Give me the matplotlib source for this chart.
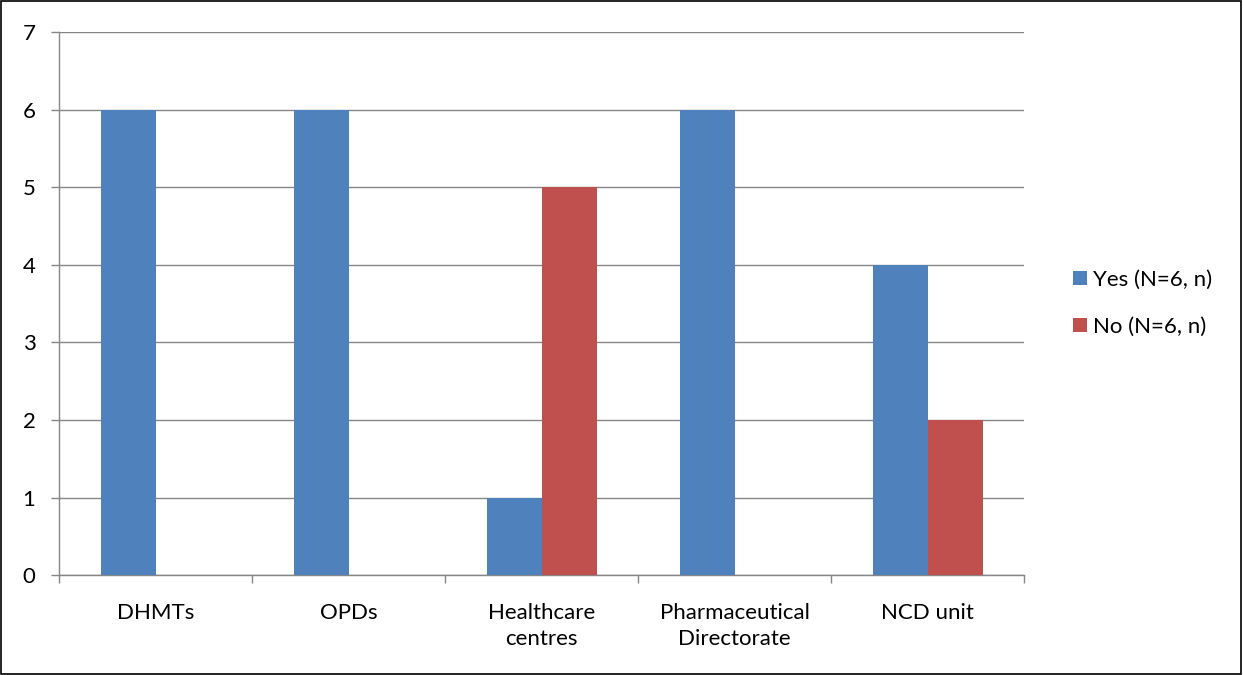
import numpy as np
import matplotlib.pyplot as plt
from matplotlib.patches import Rectangle

categories = ['DHMTs', 'OPDs', 'Healthcare\ncentres', 'Pharmaceutical\nDirectorate', 'NCD unit']
yes_vals = [6, 6, 1, 6, 4]
no_vals = [0, 0, 5, 0, 2]
series_names = ['Yes (N=6, n)', 'No (N=6, n)']

plt.rcParams['font.family'] = ['Lato', 'DejaVu Sans']

fig = plt.figure(figsize=(12.43, 6.75), dpi=100)
ax = fig.add_axes([0.0475, 0.148, 0.7765, 0.8046])

x = np.arange(len(categories))
w = 0.285
ax.bar(x - w / 2, yes_vals, w, color='#4F81BD', label=series_names[0], zorder=3)
ax.bar(x + w / 2, no_vals, w, color='#C0504D', label=series_names[1], zorder=3)

ax.set_xlim(-0.5, len(categories) - 0.5)
ax.set_ylim(0, 7)
ax.set_yticks(range(0, 8))
ax.yaxis.grid(True, color='#868686', linewidth=1, zorder=0)

ax.set_xticks(x)
ax.set_xticklabels(categories, fontsize=16, linespacing=1.4)
ax.set_xticks(np.arange(-0.5, len(categories)), minor=True)
ax.tick_params(axis='x', which='major', length=0, pad=20)
ax.tick_params(axis='x', which='minor', length=6, color='#868686', width=1)
ax.tick_params(axis='y', length=6, color='#868686', width=1, labelsize=16, pad=11)

for s in ['top', 'right']:
    ax.spines[s].set_visible(False)
for s in ['left', 'bottom']:
    ax.spines[s].set_color('#868686')
    ax.spines[s].set_linewidth(1)

ax.legend(loc='center left', bbox_to_anchor=(1.03, 0.5), frameon=False, fontsize=16,
          handlelength=0.6, handleheight=0.6, handletextpad=0.3, labelspacing=1.2)

fig.patches.append(Rectangle((0.001, 0.002), 0.997, 0.996, transform=fig.transFigure,
                             fill=False, edgecolor='black', linewidth=1.2))

fig.savefig('out.png', dpi=100)
